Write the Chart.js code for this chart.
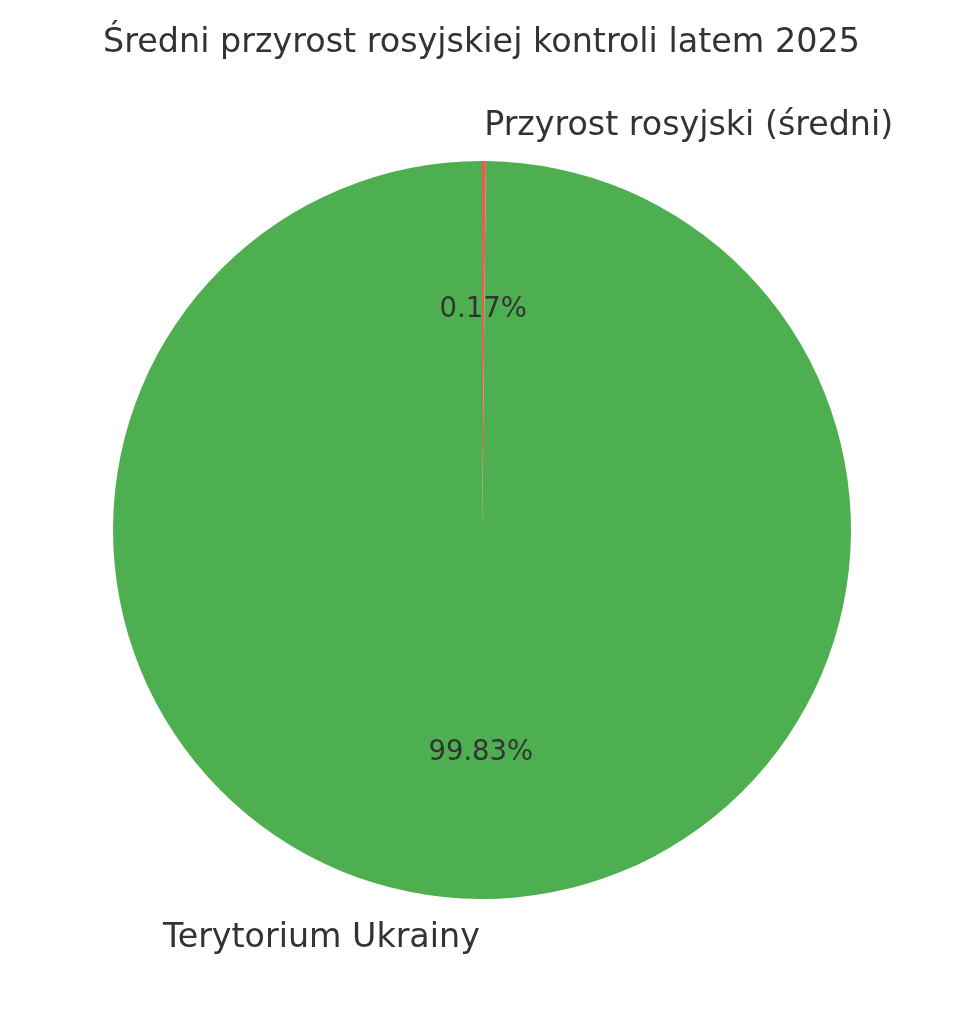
<!DOCTYPE html>
<html><head><meta charset="utf-8">
<script src="https://cdn.jsdelivr.net/npm/chart.js@4/dist/chart.umd.min.js"></script>
<style>html,body{margin:0;padding:0;background:#fff}#w{width:963px;height:1012px}</style>
</head><body><div id="w"><canvas id="c"></canvas></div>
<script>
const title = "Średni przyrost rosyjskiej kontroli latem 2025";
const categories = ["Przyrost rosyjski (średni)", "Terytorium Ukrainy"];
const values = [0.17, 99.83];
const percentLabels = ["0.17%", "99.83%"];
const colors = ["#F75555", "#4EAF50"];

const textColor = "#333333";
const FONT = "'DejaVu Sans', sans-serif";

const labelPlugin = {
  id: 'pieLabels',
  afterDatasetsDraw(chart) {
    const ctx = chart.ctx;
    const meta = chart.getDatasetMeta(0);
    ctx.save();
    ctx.fillStyle = textColor;
    // title
    ctx.font = "33.4px " + FONT;
    ctx.textAlign = 'center';
    ctx.textBaseline = 'middle';
    ctx.fillText(title, chart.width / 2, 43);
    meta.data.forEach((arc, i) => {
      const p = arc.getProps(['x','y','startAngle','endAngle','outerRadius'], true);
      const mid = (p.startAngle + p.endAngle) / 2;
      const cx = Math.cos(mid), cy = Math.sin(mid);
      // percentage
      ctx.font = "27.5px " + FONT;
      ctx.textAlign = 'center';
      ctx.fillText(percentLabels[i], p.x + cx * p.outerRadius * 0.6, p.y + cy * p.outerRadius * 0.6 + 1.5);
      // category label
      ctx.font = "33.3px " + FONT;
      ctx.textAlign = cx >= 0 ? 'left' : 'right';
      ctx.fillText(categories[i], p.x + cx * p.outerRadius * 1.1, p.y + cy * p.outerRadius * 1.1 + 2.5);
    });
    ctx.restore();
  }
};

new Chart(document.getElementById('c'), {
  type: 'pie',
  data: {
    labels: categories,
    datasets: [{ data: values, backgroundColor: colors, borderWidth: 0 }]
  },
  options: {
    responsive: true,
    maintainAspectRatio: false,
    animation: false,
    rotation: 0,
    layout: { padding: { left: 113, right: 112, top: 161, bottom: 113 } },
    plugins: { legend: { display: false }, tooltip: { enabled: false }, title: { display: false } }
  },
  plugins: [labelPlugin]
});
</script>
</body></html>
